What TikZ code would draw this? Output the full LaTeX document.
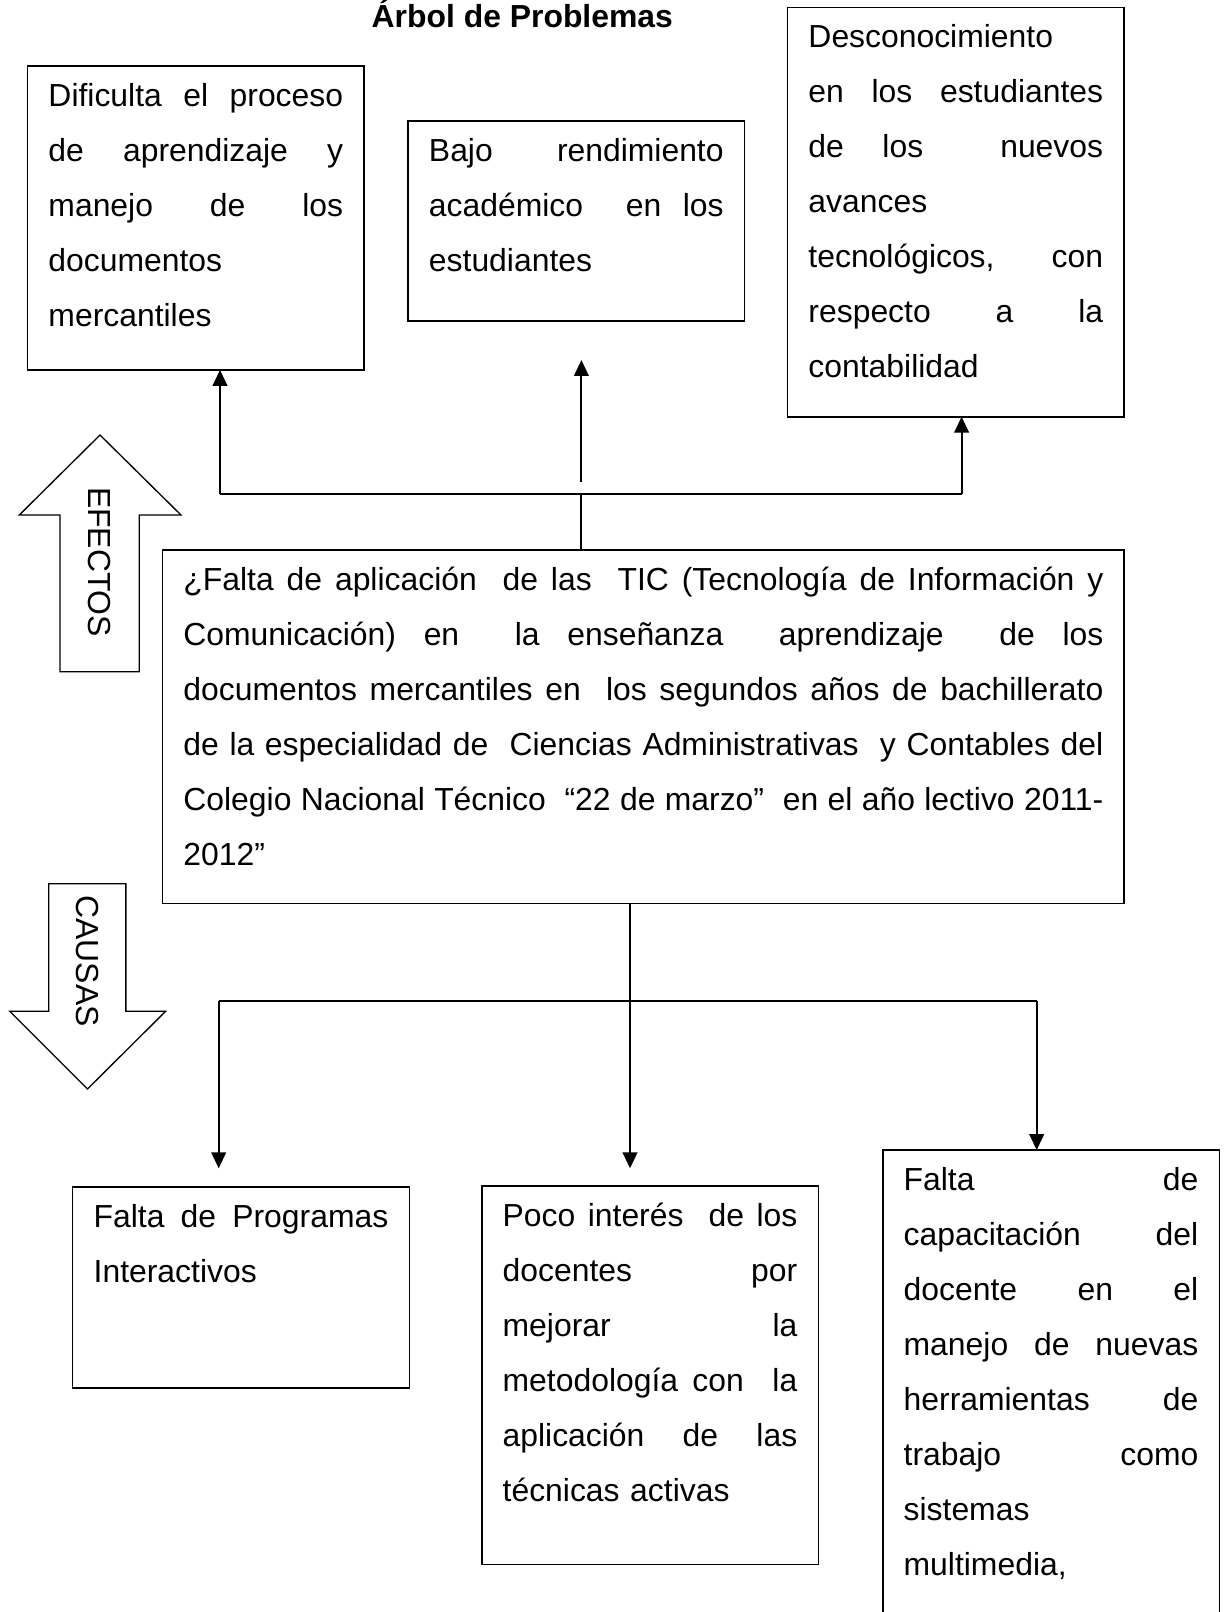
\documentclass[tikz,border=0pt]{standalone}
\usepackage{fontspec}
\setmainfont{Liberation Sans}
\usetikzlibrary{arrows.meta}
\newcommand{\texto}{\fontsize{12}{20.7}\selectfont}
\newcommand{\js}[2][110.9pt]{\leavevmode\hbox to #1{\spaceskip=3.33pt plus 1fil\xspaceskip=3.33pt plus 1fil\relax #2}}

\begin{document}
\begin{tikzpicture}[x=0.3764pt,y=-0.3764pt,line width=0.75pt,>={Triangle[length=6pt,width=5.5pt]},
  caja/.style={draw,line width=0.6pt,anchor=north west,outer sep=0pt,inner ysep=0pt,inner xsep=7.9pt,
    text width=110.9pt,text height=15.2pt,align=left,font=\texto},
  contorno/.style={draw,line width=0.5pt}]
  \useasboundingbox (0,0) rectangle (1227,1612);
  % titulo
  \node[font=\bfseries\fontsize{12}{14}\selectfont,anchor=base] (titulo) at (522.3,27) {Árbol de Problemas};
  % efectos
  \node[caja,text depth=99.3pt] (efecto1) at (27.5,65.7)
    {\js{Dificulta el proceso}\\ \js{de aprendizaje y}\\ \js{manejo de los}\\ documentos\\ mercantiles};
  \node[caja,text depth=60.1pt] (efecto2) at (408,120.7)
    {\js{Bajo rendimiento}\\ \js{académico\ \ en los}\\ estudiantes};
  \node[caja,text depth=138.9pt] (efecto3) at (787.5,7.3)
    {Desconocimiento\\ \js{en los estudiantes}\\ \js{de los\ \ nuevos}\\ avances\\ \js{tecnológicos, con}\\ \js{respecto a la}\\ contabilidad};
  % problema central
  \node[caja,inner xsep=7.8pt,text width=346.3pt,text depth=117.8pt] (problema) at (162.7,550)
    {\js[346.3pt]{¿Falta de aplicación\ \ de las\ \ TIC (Tecnología de Información y}\\
     \js[346.3pt]{Comunicación) en\ \ la enseñanza\ \ aprendizaje\ \ de los}\\
     \js[346.3pt]{documentos mercantiles en\ \ los segundos años de bachillerato}\\
     \js[346.3pt]{de la especialidad de\ \ Ciencias Administrativas\ \ y Contables del}\\
     \js[346.3pt]{Colegio Nacional Técnico\ \ “22 de marzo”\ \ en el año lectivo 2011-}\\
     2012”};
  % causas
  \node[caja,text depth=60.5pt] (causa1) at (72.7,1186.7)
    {\js{Falta de Programas}\\ Interactivos};
  \node[caja,text depth=127.3pt] (causa2) at (481.7,1185.7)
    {\js{Poco interés\ \ de los}\\ \js{docentes por}\\ \js{mejorar la}\\ \js{metodología con\ \ la}\\ \js{aplicación de las}\\ técnicas activas};
  \node[caja,text depth=165.5pt] (causa3) at (882.7,1150)
    {\js{Falta de}\\ \js{capacitación del}\\ \js{docente en el}\\ \js{manejo de nuevas}\\ \js{herramientas de}\\ \js{trabajo como}\\ sistemas\\ multimedia,};
  % flechas grandes
  \draw[contorno] (100,435) -- (181,515) -- (139.3,515) -- (139.3,671.7) -- (60,671.7) -- (60,515) -- (19.3,515) -- cycle;
  \node[rotate=-90,font=\texto] (efectos) at (99.5,562) {EFECTOS};
  \draw[contorno] (48.7,883.7) -- (125.9,883.7) -- (125.9,1011.3) -- (165.6,1011.3) -- (87.5,1089) -- (9.8,1011.3) -- (48.7,1011.3) -- cycle;
  \node[rotate=-90,font=\texto] (causas) at (87,961) {CAUSAS};
  % ramas de efectos
  \coordinate (ramaE) at (581.4,494.3);
  \coordinate (xE1) at (220,494.3);
  \coordinate (xE3) at (961.6,494.3);
  \coordinate (pieE2) at (581.4,481.7);
  \coordinate (puntaE2) at (581.4,360);
  \draw (problema.north -| ramaE) -- (ramaE);
  \draw (xE1) -- (xE3);
  \draw[->] (xE1) -- (xE1 |- efecto1.south);
  \draw[->] (xE3) -- (xE3 |- efecto3.south);
  \draw[->] (pieE2) -- (puntaE2);
  % ramas de causas
  \coordinate (ramaC) at (630,1001);
  \coordinate (xC1) at (218.7,1001);
  \coordinate (xC3) at (1036.7,1001);
  \coordinate (puntaC1) at (218.7,1168.3);
  \coordinate (puntaC2) at (630,1168.3);
  \draw (xC1) -- (xC3);
  \draw[->] (problema.south -| ramaC) -- (puntaC2);
  \draw[->] (xC1) -- (puntaC1);
  \draw[->] (xC3) -- (xC3 |- causa3.north);
\end{tikzpicture}
\end{document}
